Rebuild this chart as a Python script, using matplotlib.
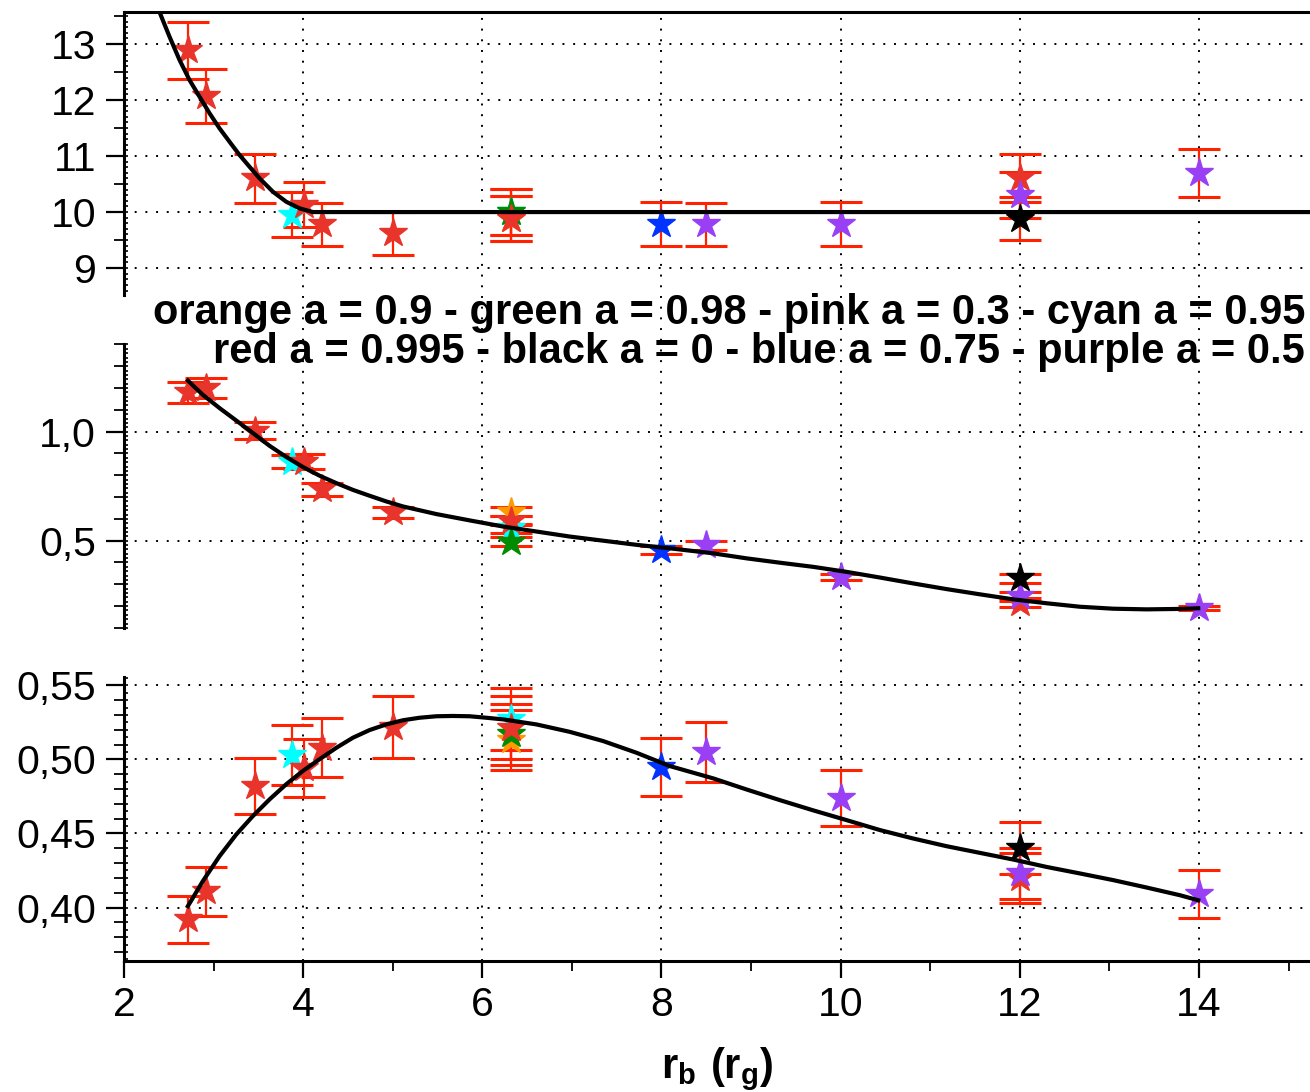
import matplotlib.pyplot as plt
import numpy as np
from matplotlib.ticker import MultipleLocator, FuncFormatter

plt.rcParams['font.family'] = ['Liberation Sans', 'DejaVu Sans']
plt.rcParams['mathtext.fontset'] = 'custom'
plt.rcParams['mathtext.bf'] = 'Liberation Sans:bold'
plt.rcParams['mathtext.rm'] = 'Liberation Sans'

# ---- data: one list per colour (a value), three panels (top / middle / bottom)
red_x = [2.71, 2.91, 3.46, 4.01, 4.21, 5.0, 6.32, 12.0]
red_top = [12.89, 12.07, 10.60, 10.13, 9.78, 9.62, 9.88, 10.61]
red_top_err = [0.51, 0.48, 0.43, 0.40, 0.39, 0.39, 0.40, 0.43]
red_mid = [1.18, 1.20, 1.005, 0.862, 0.735, 0.630, 0.592, 0.215]
red_mid_err = [0.047, 0.047, 0.040, 0.034, 0.028, 0.025, 0.020, 0.020]
red_bot = [0.392, 0.411, 0.482, 0.494, 0.508, 0.522, 0.5215, 0.420]
red_bot_err = [0.016, 0.0165, 0.019, 0.0195, 0.020, 0.021, 0.021, 0.017]

cyan_x = [3.88, 6.32]
cyan_top = [9.95, 10.0]
cyan_top_err = [0.40, 0.41]
cyan_mid = [0.862, 0.557]
cyan_mid_err = [0.030, 0.020]
cyan_bot = [0.503, 0.527]
cyan_bot_err = [0.020, 0.021]

orange_x = [6.32]
orange_top = [9.88]
orange_top_err = [0.40]
orange_mid = [0.633]
orange_mid_err = [0.020]
orange_bot = [0.513]
orange_bot_err = [0.020]

green_x = [6.32]
green_top = [10.0]
green_top_err = [0.41]
green_mid = [0.495]
green_mid_err = [0.020]
green_bot = [0.517]
green_bot_err = [0.0206]

blue_x = [8.0]
blue_top = [9.79]
blue_top_err = [0.39]
blue_mid = [0.457]
blue_mid_err = [0.019]
blue_bot = [0.495]
blue_bot_err = [0.0197]

purple_x = [8.5, 10.0, 12.0, 14.0]
purple_top = [9.78, 9.79, 10.30, 10.70]
purple_top_err = [0.39, 0.39, 0.41, 0.43]
purple_mid = [0.478, 0.334, 0.245, 0.190]
purple_mid_err = [0.019, 0.015, 0.020, 0.010]
purple_bot = [0.505, 0.474, 0.423, 0.409]
purple_bot_err = [0.020, 0.019, 0.017, 0.0163]

black_x = [12.0]
black_top = [9.885]
black_top_err = [0.39]
black_mid = [0.327]
black_mid_err = [0.020]
black_bot = [0.440]
black_bot_err = [0.0176]

# fitted curves
fit_top_x = [2.396, 2.508, 2.620, 2.731, 2.843, 2.955, 3.066, 3.178, 3.290, 3.401, 3.513,
             3.662, 3.811, 3.960, 4.109, 15.3]
fit_top_y = [13.571, 13.13, 12.714, 12.357, 12.059, 11.763, 11.495, 11.255, 11.018, 10.809,
             10.602, 10.363, 10.184, 10.066, 10.0, 10.0]
fit_mid_x = [2.713, 2.880, 3.067, 3.253, 3.438, 3.625, 3.811, 3.997, 4.183, 4.370, 4.555,
             4.742, 4.928, 5.114, 5.487, 5.859, 6.230, 6.604, 6.975, 7.347, 7.720, 8.092,
             8.576, 8.949, 9.321, 9.693, 10.066, 10.438, 10.809, 11.182, 11.554, 11.926,
             12.299, 12.671, 13.043, 13.416, 13.788, 13.992]
fit_mid_y = [1.234, 1.169, 1.108, 1.051, 0.994, 0.935, 0.884, 0.838, 0.798, 0.764, 0.733,
             0.706, 0.680, 0.657, 0.622, 0.593, 0.565, 0.542, 0.519, 0.500, 0.481, 0.465,
             0.442, 0.419, 0.399, 0.380, 0.357, 0.331, 0.304, 0.278, 0.254, 0.231,
             0.213, 0.197, 0.188, 0.185, 0.187, 0.190]
fit_bot_x = [2.713, 2.880, 3.067, 3.253, 3.438, 3.625, 3.811, 3.997, 4.183, 4.370, 4.555,
             4.742, 4.928, 5.114, 5.300, 5.487, 5.672, 5.859, 6.045, 6.230, 6.604, 6.975,
             7.347, 7.720, 8.092, 8.576, 8.949, 9.321, 9.693, 10.066, 10.438, 10.809,
             11.182, 11.554, 11.926, 12.299, 12.671, 13.043, 13.416, 13.788, 13.992]
fit_bot_y = [0.4009, 0.4178, 0.4347, 0.4493, 0.4617, 0.4730, 0.4832, 0.4922, 0.5001, 0.5078,
             0.5146, 0.5198, 0.5236, 0.5264, 0.5281, 0.5291, 0.5293, 0.5291, 0.5281, 0.5270,
             0.5236, 0.5186, 0.5124, 0.5045, 0.4955, 0.4872, 0.4797, 0.4725, 0.4656, 0.4590,
             0.4523, 0.4466, 0.4414, 0.4369, 0.4324, 0.4274, 0.4230, 0.4185, 0.4135, 0.4083,
             0.4049]

series = [
    ('#ff9900', orange_x, orange_top, orange_top_err, orange_mid, orange_mid_err, orange_bot, orange_bot_err),
    ('#00ffff', cyan_x, cyan_top, cyan_top_err, cyan_mid, cyan_mid_err, cyan_bot, cyan_bot_err),
    ('#008c00', green_x, green_top, green_top_err, green_mid, green_mid_err, green_bot, green_bot_err),
    ('#e8342a', red_x, red_top, red_top_err, red_mid, red_mid_err, red_bot, red_bot_err),
    ('#0033ff', blue_x, blue_top, blue_top_err, blue_mid, blue_mid_err, blue_bot, blue_bot_err),
    ('#9940f5', purple_x, purple_top, purple_top_err, purple_mid, purple_mid_err, purple_bot, purple_bot_err),
    ('#000000', black_x, black_top, black_top_err, black_mid, black_mid_err, black_bot, black_bot_err),
]

W, H = 1310, 1092
XMAX = 15.24
dots = (0, (1, 4.5))


def box(top, bottom):
    return [124 / W, 1 - bottom / H, 1 - 124 / W, (bottom - top) / H]


fig = plt.figure(figsize=(13.1, 10.92), dpi=100)

# background axes only for the vertical dotted grid running through all panels
bg = fig.add_axes(box(12, 961))
bg.set_xlim(2, XMAX)
bg.set_ylim(0, 1)
bg.axis('off')
for xv in range(4, 15, 2):
    bg.axvline(xv, color='k', lw=1.4, ls=dots)


def comma(dec):
    return FuncFormatter(lambda v, p: f'{v:.{dec}f}'.replace('.', ','))


def panel(rect, ylim, major, medium, small, fmt, k):
    ax = fig.add_axes(rect)
    ax.patch.set_visible(False)
    ax.set_xlim(2, XMAX)
    ax.set_ylim(*ylim)
    for s in ['left', 'right', 'top', 'bottom']:
        ax.spines[s].set_linewidth(2.2)
    ax.spines['right'].set_visible(False)
    ax.yaxis.set_major_locator(MultipleLocator(major))
    ax.yaxis.set_minor_locator(MultipleLocator(medium))
    ax.yaxis.set_major_formatter(fmt)
    ax.tick_params(axis='y', which='major', length=13, width=1.6, labelsize=29.5, pad=7)
    ax.tick_params(axis='y', which='minor', length=7, width=1.3)
    ax.yaxis.grid(True, which='major', color='k', lw=1.4, ls=dots)
    sec = ax.secondary_yaxis('left')
    sec.yaxis.set_major_locator(MultipleLocator(small))
    sec.tick_params(axis='y', which='major', direction='in', length=3, width=1.2, labelleft=False)
    sec.spines['left'].set_visible(False)

    for c, x, *vals in series:
        y, e = vals[2 * k], vals[2 * k + 1]
        ax.errorbar(x, y, yerr=e, fmt='none', ecolor='#ff2200', elinewidth=1.6,
                    capsize=15, capthick=2.2, zorder=3)
        ax.plot(x, y, '*', color=c, mec=c, ms=21, zorder=4)
    return ax


ax1 = panel(box(12, 295), (8.52, 13.57), 1, 0.5, 0.1, comma(0), 0)
ax1.spines['bottom'].set_visible(False)
ax1.tick_params(axis='x', which='both', bottom=False, labelbottom=False)
ax1.plot(fit_top_x, fit_top_y, color='k', lw=3, zorder=5, solid_joinstyle='round')

ax2 = panel(box(344, 628), (0.0995, 1.402), 0.5, 0.1, 0.02, comma(1), 1)
ax2.spines['bottom'].set_visible(False)
ax2.spines['top'].set_visible(False)
ax2.tick_params(axis='x', which='both', bottom=False, labelbottom=False)
ax2.plot(fit_mid_x, fit_mid_y, color='k', lw=3, zorder=5, solid_joinstyle='round')

ax3 = panel(box(677, 961), (0.3639, 0.5556), 0.05, 0.01, 0.005, comma(2), 2)
ax3.spines['top'].set_visible(False)
ax3.xaxis.set_major_locator(MultipleLocator(2))
ax3.xaxis.set_minor_locator(MultipleLocator(1))
ax3.tick_params(axis='x', which='major', length=12, width=1.6, labelsize=29.5, pad=6)
ax3.tick_params(axis='x', which='minor', length=7, width=1.3)
ax3.plot(fit_bot_x, fit_bot_y, color='k', lw=3, zorder=5, solid_joinstyle='round')

fig.text(1305 / W, 1 - 313 / H, 'orange a = 0.9 - green a = 0.98 - pink a = 0.3 - cyan a = 0.95',
         ha='right', va='center', fontsize=30, fontweight='bold')
fig.text(1305 / W, 1 - 352 / H, 'red a = 0.995 - black a = 0 - blue a = 0.75 - purple a = 0.5',
         ha='right', va='center', fontsize=30, fontweight='bold')
fig.text(717 / W, 1 - 1069 / H, r'$\mathbf{r_b\ (r_g)}$', ha='center', va='center', fontsize=30)

fig.savefig('out.png', dpi=100)
